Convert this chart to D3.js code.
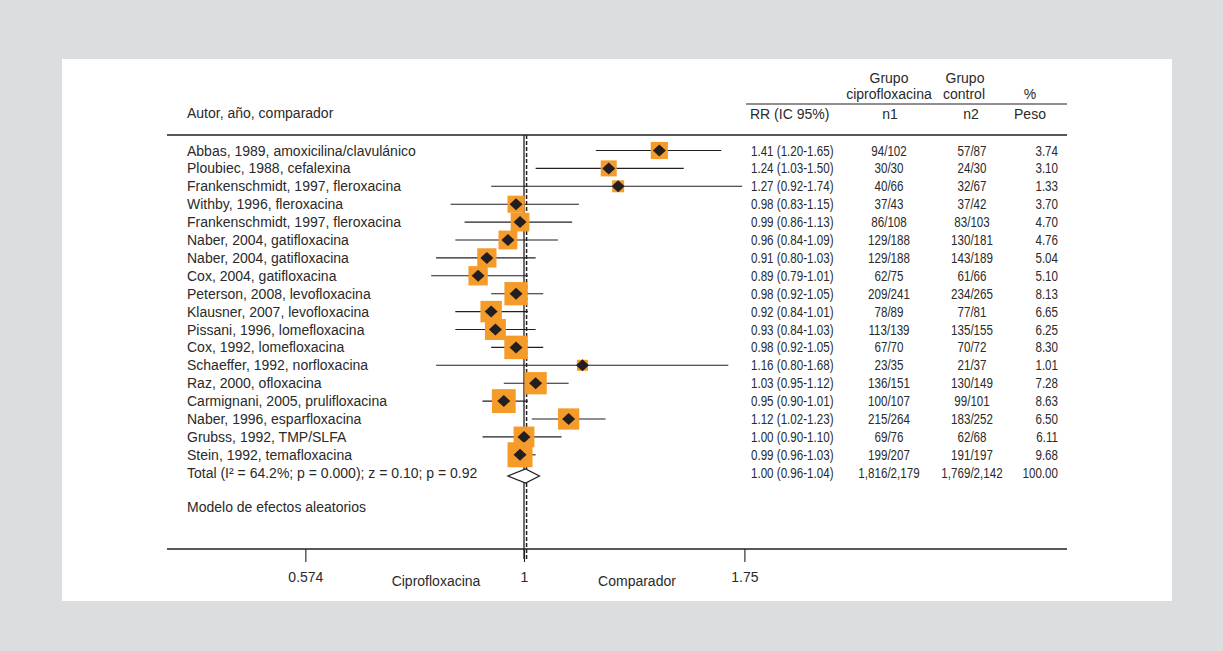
<!DOCTYPE html>
<html><head><meta charset="utf-8">
<script src="https://cdn.jsdelivr.net/npm/d3@7"></script>
<style>
html,body{margin:0;padding:0;background:#dcdddf;}
svg{display:block;}
.lab{font-family:"Liberation Sans",Arial,sans-serif;font-size:14px;fill:#2a2a2a;}
.num{font-family:"Liberation Sans",Arial,sans-serif;font-size:14.5px;fill:#2a2a2a;}
</style></head>
<body>
<script>
const studies = ["Abbas, 1989, amoxicilina/clavulánico","Ploubiec, 1988, cefalexina","Frankenschmidt, 1997, fleroxacina","Withby, 1996, fleroxacina","Frankenschmidt, 1997, fleroxacina","Naber, 2004, gatifloxacina","Naber, 2004, gatifloxacina","Cox, 2004, gatifloxacina","Peterson, 2008, levofloxacina","Klausner, 2007, levofloxacina","Pissani, 1996, lomefloxacina","Cox, 1992, lomefloxacina","Schaeffer, 1992, norfloxacina","Raz, 2000, ofloxacina","Carmignani, 2005, prulifloxacina","Naber, 1996, esparfloxacina","Grubss, 1992, TMP/SLFA","Stein, 1992, temafloxacina"];
const rr   = [1.41,1.24,1.27,0.98,0.99,0.96,0.91,0.89,0.98,0.92,0.93,0.98,1.16,1.03,0.95,1.12,1.00,0.99];
const ciLo = [1.20,1.03,0.92,0.83,0.86,0.84,0.80,0.79,0.92,0.84,0.84,0.92,0.80,0.95,0.90,1.02,0.90,0.96];
const ciHi = [1.65,1.50,1.74,1.15,1.13,1.09,1.03,1.01,1.05,1.01,1.03,1.05,1.68,1.12,1.01,1.23,1.10,1.03];
const n1   = ["94/102","30/30","40/66","37/43","86/108","129/188","129/188","62/75","209/241","78/89","113/139","67/70","23/35","136/151","100/107","215/264","69/76","199/207"];
const n2   = ["57/87","24/30","32/67","37/42","83/103","130/181","143/189","61/66","234/265","77/81","135/155","70/72","21/37","130/149","99/101","183/252","62/68","191/197"];
const peso = [3.74,3.10,1.33,3.70,4.70,4.76,5.04,5.10,8.13,6.65,6.25,8.30,1.01,7.28,8.63,6.50,6.11,9.68];
const total = {label:"Total (I² = 64.2%; p = 0.000); z = 0.10; p = 0.92", rr:1.004, lo:0.96, hi:1.04, text:"1.00 (0.96-1.04)", n1:"1,816/2,179", n2:"1,769/2,142", peso:"100.00"};
const axisTicks = [0.574, 1, 1.75];

const W = 1223, H = 651;
const svg = d3.select("body").append("svg").attr("width", W).attr("height", H);
svg.append("rect").attr("x",0).attr("y",0).attr("width",W).attr("height",H).attr("fill","#dcdddf");
svg.append("rect").attr("x",62).attr("y",59).attr("width",1110).attr("height",542).attr("fill","#ffffff");

const x = d3.scaleLog().domain([0.5, 2]).range([251, 797]);
const y = d3.scaleLinear().domain([0, studies.length - 1]).range([150.5, 454.8]);
const side = d3.scalePow().exponent(0.5).domain(d3.extent(peso)).range([11, 25]);
const totalY = 476;
const lineL = 167, lineR = 1067;
const ink = "#231f20";
const SX = 0.8; // condensed look for the numeric columns

function lab(px, py, t, anchor) {
  return svg.append("text").attr("class","lab").attr("x",px).attr("y",py).attr("text-anchor",anchor||"start").text(t);
}
function num(px, py, t, anchor) {
  return svg.append("text").attr("class","num").attr("transform",`translate(${px},${py}) scale(${SX},1)`)
    .attr("text-anchor",anchor||"start").text(t);
}

// header
lab(187,118,"Autor, año, comparador");
lab(750,119,"RR (IC 95%)");
lab(889,83,"Grupo","middle");
lab(889,99,"ciprofloxacina","middle");
lab(890,119,"n1","middle");
lab(965,83,"Grupo","middle");
lab(964,99,"control","middle");
lab(971,119,"n2","middle");
lab(1030,99,"%","middle");
lab(1030,119,"Peso","middle");
svg.append("line").attr("x1",746).attr("x2",lineR).attr("y1",104).attr("y2",104).attr("stroke",ink).attr("stroke-width",1);
svg.append("line").attr("x1",lineL).attr("x2",lineR).attr("y1",135).attr("y2",135).attr("stroke",ink).attr("stroke-width",1.3);

// reference lines
svg.append("line").attr("x1",x(1)).attr("x2",x(1)).attr("y1",135).attr("y2",559).attr("stroke",ink).attr("stroke-width",1.3);
svg.append("line").attr("x1",x(total.rr)+1).attr("x2",x(total.rr)+1).attr("y1",135).attr("y2",560).attr("stroke",ink).attr("stroke-width",1.5).attr("stroke-dasharray","4,2");

// studies
const g = svg.append("g");
studies.forEach((s, i) => {
  const yy = y(i);
  g.append("line").attr("x1",x(ciLo[i])).attr("x2",x(ciHi[i])).attr("y1",yy).attr("y2",yy).attr("stroke",ink).attr("stroke-width",1.1);
  const sd = side(peso[i]);
  g.append("rect").attr("x",x(rr[i])-sd/2).attr("y",yy-sd/2).attr("width",sd).attr("height",sd).attr("fill","#f59b2a");
  const cx = x(rr[i]);
  g.append("path").attr("d",`M${cx-6.5},${yy}L${cx},${yy-6}L${cx+6.5},${yy}L${cx},${yy+6}Z`).attr("fill","#231f20");
  lab(187, yy+5, s);
  num(751, yy+5, `${rr[i].toFixed(2)} (${ciLo[i].toFixed(2)}-${ciHi[i].toFixed(2)})`);
  num(889, yy+5, n1[i], "middle");
  num(972, yy+5, n2[i], "middle");
  num(1058, yy+5, peso[i].toFixed(2), "end");
});

// total
const ty = y(studies.length);
lab(187, ty+5, total.label);
num(751, ty+5, total.text);
num(889, ty+5, total.n1, "middle");
num(972, ty+5, total.n2, "middle");
num(1058, ty+5, total.peso, "end");
svg.append("path").attr("d",`M${x(total.lo)},${totalY}L${x(total.rr)},${totalY-7}L${x(total.hi)},${totalY}L${x(total.rr)},${totalY+7}Z`)
  .attr("fill","#fff").attr("stroke",ink).attr("stroke-width",1.2);
lab(187, 512, "Modelo de efectos aleatorios");

// axis
const axisG = svg.append("g").attr("transform","translate(0,549)");
axisG.append("line").attr("x1",lineL).attr("x2",lineR).attr("y1",0).attr("y2",0).attr("stroke",ink).attr("stroke-width",1.3);
const ax = d3.axisBottom(x).tickValues(axisTicks).tickSize(13).tickPadding(10).tickFormat(d => String(d));
axisG.call(ax);
axisG.select(".domain").remove();
axisG.selectAll(".tick line").attr("stroke",ink).attr("stroke-width",1.1);
axisG.selectAll(".tick text").attr("class","lab").attr("font-family",null).attr("font-size",null).attr("fill",null);
lab(436, 586, "Ciprofloxacina", "middle");
lab(637, 586, "Comparador", "middle");
</script>
</body></html>
